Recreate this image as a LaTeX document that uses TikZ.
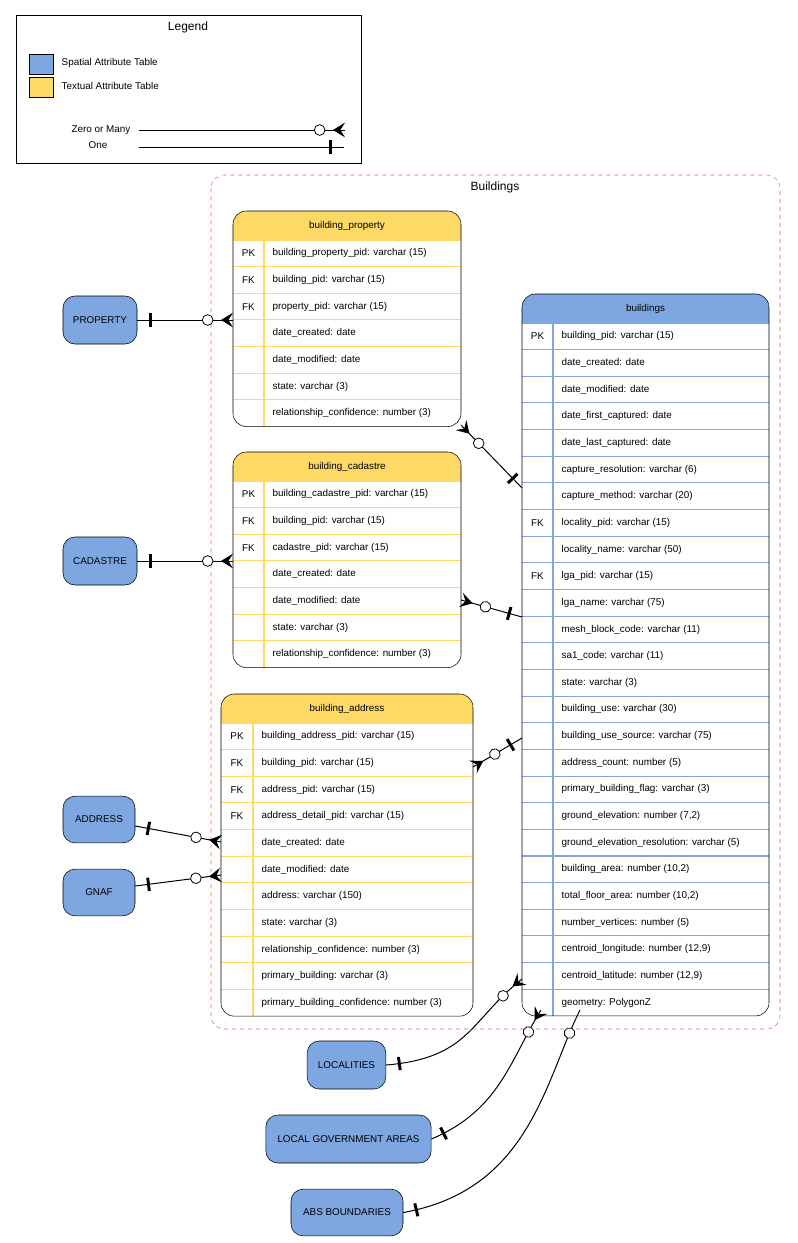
\documentclass[tikz,border=0pt]{standalone}
\usepackage{fontspec}
\setmainfont{Liberation Sans}
\usetikzlibrary{arrows.meta,decorations.markings}
\definecolor{sblue}{HTML}{7EA6E0}
\definecolor{tyel}{HTML}{FFD966}
\definecolor{fred}{HTML}{E06666}
\newcommand{\tfont}{\fontsize{7.4}{8}\selectfont}
\newcommand{\tbl}[8]{% name, x1, xd, x2, top, colour, title, rows
  \def\rh{26.65}
  \xdef\tbN{0}
  \foreach \k/\t [count=\i] in {#8} {\xdef\tbN{\i}}
  \pgfmathsetmacro\bot{#5+29+\tbN*\rh}
  \begin{scope}
    \clip[rounded corners=10] (#2,#5) rectangle (#4,\bot);
    \fill[white] (#2,#5) rectangle (#4,\bot);
    \fill[#6] (#2,#5) rectangle (#4,#5+29);
    \node[font=\tfont] at ({(#2+#4)/2},#5+14.5) {#7};
    \foreach \k/\t [count=\i] in {#8} {
      \pgfmathsetmacro\ya{#5+29+(\i-1)*\rh}
      \draw[#6,line width=0.8pt] (#2,\ya) -- (#4,\ya);
      \node[font=\tfont] at ({(#2+#3)/2},\ya+\rh/2) {\k};
      \node[font=\tfont,anchor=west] at (#3+4,\ya+\rh/2) {\t};
    }
    \draw[#6,line width=0.8pt] (#3,#5+29) -- (#3,\bot);
  \end{scope}
  \draw[rounded corners=10] (#2,#5) rectangle (#4,\bot);
  \coordinate (#1) at (#2,#5);
}
\tikzset{
  ent/.style={draw,fill=sblue,rounded corners=9,font=\tfont,inner sep=0},
  rel/.style={line width=0.75pt},
  one/.style={postaction={decorate,decoration={markings,mark=at position 10pt with {\draw[line width=2.2pt] (0,-5pt)--(0,5pt);}}}},
  zom/.style={postaction={decorate,decoration={markings,
     mark=at position -19pt with {\draw[line width=0.6pt,fill=white] (0,0) circle (4pt);},
     mark=at position 1 with {\arrow{Stealth[reversed,length=9pt,width=11pt,inset=3.5pt]}}}}},
}
\begin{document}
\begin{tikzpicture}[x=0.75pt,y=-0.75pt]
\useasboundingbox (0,0) rectangle (797,1243);
% legend
\draw[line width=0.75pt] (16,15) rectangle (361,163);
\node[font=\fontsize{9}{10}\selectfont] (lgt) at (188,27) {Legend};
\draw[fill=sblue] (29,54) rectangle (53,74);
\draw[fill=tyel] (29,77) rectangle (53,97);
\node[font=\tfont,anchor=west] (l1) at (57,63) {Spatial Attribute Table};
\node[font=\tfont,anchor=west] (l2) at (57,86) {Textual Attribute Table};
\node[font=\tfont,anchor=east] (l3) at (135,130) {Zero or Many};
\node[font=\tfont,anchor=east] (l4) at (112,145) {One};
\coordinate (za) at (139,130); \coordinate (zb) at (345,130);
\coordinate (oa) at (139,147); \coordinate (ob) at (344,147);
\draw[rel,zom] (za) -- (zb);
\draw[rel,postaction={decorate,decoration={markings,mark=at position -10pt with {\draw[line width=2.2pt] (0,-5pt)--(0,5pt);}}}] (oa) -- (ob);
% frame
\draw[fred,dashed,rounded corners=10] (211,175) rectangle (780,1029);
\node[font=\fontsize{9}{10}\selectfont] (ft) at (495,187) {Buildings};
% tables
\tbl{bp}{233}{264}{461}{211}{tyel}{building\_property}{PK/{building\_property\_pid: varchar (15)},FK/{building\_pid: varchar (15)},FK/{property\_pid: varchar (15)},/{date\_created: date},/{date\_modified: date},/{state: varchar (3)},/{relationship\_confidence: number (3)}}
\tbl{bc}{233}{264}{461}{452}{tyel}{building\_cadastre}{PK/{building\_cadastre\_pid: varchar (15)},FK/{building\_pid: varchar (15)},FK/{cadastre\_pid: varchar (15)},/{date\_created: date},/{date\_modified: date},/{state: varchar (3)},/{relationship\_confidence: number (3)}}
\tbl{ba}{221}{253}{473}{694}{tyel}{building\_address}{PK/{building\_address\_pid: varchar (15)},FK/{building\_pid: varchar (15)},FK/{address\_pid: varchar (15)},FK/{address\_detail\_pid: varchar (15)},/{date\_created: date},/{date\_modified: date},/{address: varchar (150)},/{state: varchar (3)},/{relationship\_confidence: number (3)},/{primary\_building: varchar (3)},/{primary\_building\_confidence: number (3)}}
\tbl{bl}{522}{553}{769}{294}{sblue}{buildings}{PK/{building\_pid: varchar (15)},/{date\_created: date},/{date\_modified: date},/{date\_first\_captured: date},/{date\_last\_captured: date},/{capture\_resolution: varchar (6)},/{capture\_method: varchar (20)},FK/{locality\_pid: varchar (15)},/{locality\_name: varchar (50)},FK/{lga\_pid: varchar (15)},/{lga\_name: varchar (75)},/{mesh\_block\_code: varchar (11)},/{sa1\_code: varchar (11)},/{state: varchar (3)},/{building\_use: varchar (30)},/{building\_use\_source: varchar (75)},/{address\_count: number (5)},/{primary\_building\_flag: varchar (3)},/{ground\_elevation: number (7,2)},/{ground\_elevation\_resolution: varchar (5)},/{building\_area: number (10,2)},/{total\_floor\_area: number (10,2)},/{number\_vertices: number (5)},/{centroid\_longitude: number (12,9)},/{centroid\_latitude: number (12,9)},/{geometry: PolygonZ}}
% entities
\node[ent,minimum width=55.5pt,minimum height=36pt] (prop) at (100,320) {PROPERTY};
\node[ent,minimum width=55.5pt,minimum height=36pt] (cad) at (100,561) {CADASTRE};
\node[ent,minimum width=54pt,minimum height=35pt] (addr) at (99,819.5) {ADDRESS};
\node[ent,minimum width=54pt,minimum height=35pt] (gnaf) at (99,892.5) {GNAF};
\node[ent,minimum width=59pt,minimum height=36pt] (loc) at (346.5,1065) {LOCALITIES};
\node[ent,minimum width=124pt,minimum height=36pt] (lga) at (348.5,1139) {LOCAL GOVERNMENT AREAS};
\node[ent,minimum width=84pt,minimum height=35pt] (abs) at (347,1212.5) {ABS BOUNDARIES};
% connector end points
\coordinate (bpL) at (233,320); \coordinate (bcL) at (233,561);
\coordinate (baL1) at (221,842); \coordinate (baL2) at (221,875);
\coordinate (bpR) at (461,425); \coordinate (blA) at (522,488);
\coordinate (bcR) at (461,600); \coordinate (blB) at (522,617);
\coordinate (baR) at (473,767); \coordinate (blC) at (522,738);
\coordinate (blD) at (522,979); \coordinate (blE) at (541,1010); \coordinate (blF) at (580,1010);
\draw[rel,one,zom] (prop.east) -- (bpL);
\draw[rel,one,zom] (cad.east) -- (bcL);
\draw[rel,one,zom] (addr.east |- 0,826) -- (baL1);
\draw[rel,one,zom] (gnaf.east |- 0,886) -- (baL2);
\draw[rel,one,zom] (blA) -- (bpR);
\draw[rel,one,zom] (blB) -- (bcR);
\draw[rel,one,zom] (blC) -- (baR);
\draw[rel,one,zom] (loc.east) .. controls (470,1058) and (470,1020) .. (blD);
\draw[rel,one,zom] (lga.east) .. controls (500,1110) and (510,1060) .. (blE);
\draw[rel,one,zom] (abs.east) .. controls (530,1190) and (545,1080) .. (blF);
\end{tikzpicture}
\end{document}
